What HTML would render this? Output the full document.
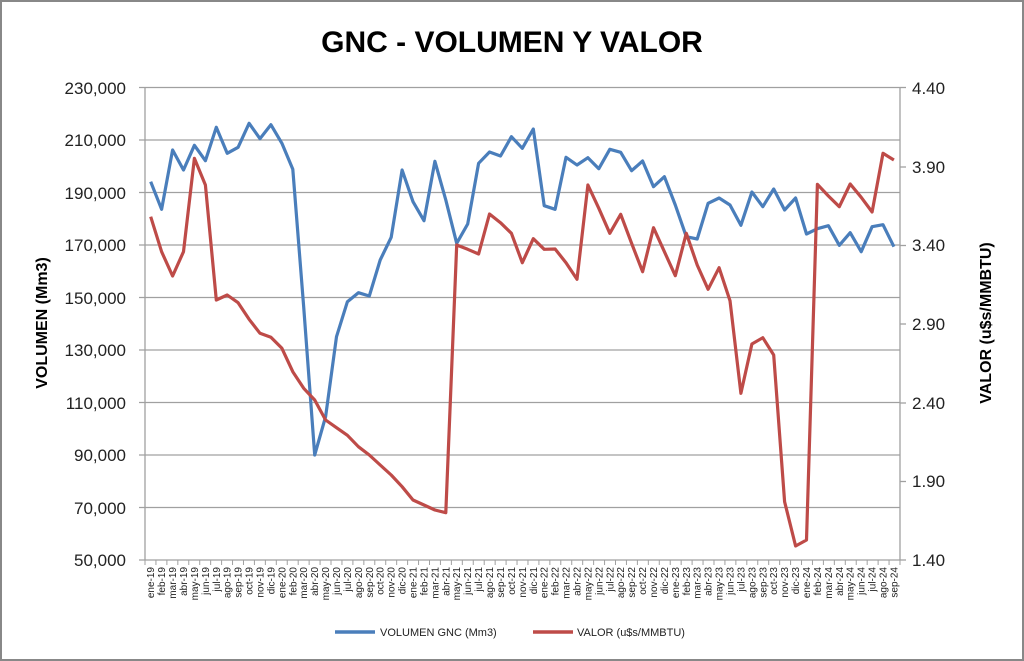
<!DOCTYPE html>
<html><head><meta charset="utf-8"><style>
html,body{margin:0;padding:0;background:#fff;}
svg{display:block;font-family:"Liberation Sans",Arial,sans-serif;}
</style></head><body>
<svg width="1024" height="661" viewBox="0 0 1024 661" xmlns="http://www.w3.org/2000/svg">
<rect x="1" y="1" width="1022" height="659" fill="#fff" stroke="#888" stroke-width="2"/>
<text x="512" y="52" text-anchor="middle" font-size="30" font-weight="bold" fill="#000">GNC - VOLUMEN Y VALOR</text>
<g stroke="#a0a0a0" stroke-width="1.3">
<line x1="139" y1="87.5" x2="900" y2="87.5"/>
<line x1="139" y1="140" x2="900" y2="140"/>
<line x1="139" y1="192.5" x2="900" y2="192.5"/>
<line x1="139" y1="245" x2="900" y2="245"/>
<line x1="139" y1="297.5" x2="900" y2="297.5"/>
<line x1="139" y1="350" x2="900" y2="350"/>
<line x1="139" y1="402.5" x2="900" y2="402.5"/>
<line x1="139" y1="455" x2="900" y2="455"/>
<line x1="139" y1="507.5" x2="900" y2="507.5"/>
<line x1="139" y1="560" x2="900" y2="560"/>
<line x1="145" y1="87" x2="145" y2="560"/>
<line x1="900" y1="87" x2="900" y2="560"/>
<line x1="900" y1="167" x2="906" y2="167"/>
<line x1="900" y1="245.5" x2="906" y2="245.5"/>
<line x1="900" y1="324" x2="906" y2="324"/>
<line x1="900" y1="403" x2="906" y2="403"/>
<line x1="900" y1="481.5" x2="906" y2="481.5"/>
<line x1="900" y1="87.5" x2="906" y2="87.5"/>
<line x1="900" y1="560" x2="906" y2="560"/>
</g>
<g font-size="17" fill="#222" text-anchor="end">
<text x="126" y="94">230,000</text>
<text x="126" y="146">210,000</text>
<text x="126" y="199">190,000</text>
<text x="126" y="251">170,000</text>
<text x="126" y="304">150,000</text>
<text x="126" y="356">130,000</text>
<text x="126" y="409">110,000</text>
<text x="126" y="461">90,000</text>
<text x="126" y="514">70,000</text>
<text x="126" y="566">50,000</text>
</g>
<g font-size="17" fill="#222">
<text x="912" y="94">4.40</text>
<text x="912" y="173">3.90</text>
<text x="912" y="251">3.40</text>
<text x="912" y="330">2.90</text>
<text x="912" y="409">2.40</text>
<text x="912" y="487">1.90</text>
<text x="912" y="566">1.40</text>
</g>
<text transform="translate(47,323) rotate(-90)" text-anchor="middle" font-size="16" font-weight="bold">VOLUMEN (Mm3)</text>
<text transform="translate(991,323) rotate(-90)" text-anchor="middle" font-size="16" font-weight="bold">VALOR (u$s/MMBTU)</text>
<g id="ticks" stroke="#a0a0a0" stroke-width="1"></g>
<g id="labels" font-size="10" fill="#222"></g>
<polyline fill="none" stroke="#4a7ebb" stroke-width="3.2" stroke-linejoin="round" points="150.7,181.7 161.6,209.3 172.6,150 183.5,170 194.4,145.3 205.4,160.7 216.3,127.3 227.2,153.3 238.1,147.3 249.1,123.3 260,138.7 270.9,124.7 281.9,143.3 292.8,169.3 303.7,307 314.7,455 325.6,416.7 336.5,336.7 347.4,301.7 358.4,292.7 369.3,296 380.2,260 391.2,237.3 402.1,170 413,201.7 424,220.7 434.9,161.3 445.8,200 456.7,243.3 467.7,224 478.6,163.3 489.5,152 500.5,156 511.4,136.7 522.3,148.3 533.3,129 544.2,205.7 555.1,209.3 566,157.3 577,165 587.9,157.7 598.8,168.7 609.8,149.3 620.7,152.3 631.6,170.7 642.6,161 653.5,186.7 664.4,176.7 675.3,205 686.3,236.7 697.2,239 708.1,203.3 719.1,198 730,205 740.9,225.3 751.9,192 762.8,206.7 773.7,189 784.6,210 795.6,198 806.5,234 817.4,228.7 828.4,225.7 839.3,245.3 850.2,232.7 861.2,251.7 872.1,226.7 883,224.7 893.9,246.7"/>
<polyline fill="none" stroke="#be4b48" stroke-width="3.2" stroke-linejoin="round" points="150.7,216.7 161.6,251.7 172.6,276 183.5,251.7 194.4,158.3 205.4,185 216.3,300 227.2,295 238.1,302.7 249.1,319.3 260,333.3 270.9,337.3 281.9,348.3 292.8,371.7 303.7,388.3 314.7,400 325.6,420 336.5,427.7 347.4,435.3 358.4,446.7 369.3,455 380.2,465 391.2,475 402.1,486.7 413,500 424,505 434.9,510 445.8,512.7 456.7,245 467.7,249.3 478.6,254 489.5,214 500.5,222.7 511.4,233.3 522.3,262.7 533.3,238.7 544.2,249.3 555.1,249 566,262.7 577,279.3 587.9,185 598.8,208.3 609.8,233.3 620.7,214.3 631.6,243.3 642.6,271.7 653.5,227.7 664.4,251.7 675.3,275.7 686.3,233.3 697.2,265 708.1,289.3 719.1,267.7 730,300.7 740.9,393.3 751.9,344 762.8,337.7 773.7,355 784.6,501.7 795.6,546 806.5,540 817.4,184.3 828.4,196 839.3,206.7 850.2,184 861.2,197.3 872.1,212 883,153.3 893.9,160"/>
<line x1="335" y1="632" x2="375" y2="632" stroke="#4a7ebb" stroke-width="3.5"/>
<text x="380" y="636" font-size="11" fill="#222">VOLUMEN GNC (Mm3)</text>
<line x1="533" y1="632" x2="573" y2="632" stroke="#be4b48" stroke-width="3.5"/>
<text x="577" y="636" font-size="11" fill="#222">VALOR (u$s/MMBTU)</text>
<script>
(function(){
var ns="http://www.w3.org/2000/svg";
var m=["ene","feb","mar","abr","may","jun","jul","ago","sep","oct","nov","dic"];
var tg=document.getElementById("ticks"),lg=document.getElementById("labels");
for(var k=0;k<=69;k++){var x=145+10.942*k;var l=document.createElementNS(ns,"line");
l.setAttribute("x1",x);l.setAttribute("x2",x);l.setAttribute("y1",560);l.setAttribute("y2",565);tg.appendChild(l);}
for(var i=0;i<69;i++){var x=150.7+10.93*i+3.5;var t=document.createElementNS(ns,"text");
t.setAttribute("transform","translate("+x+",567) rotate(-90)");t.setAttribute("text-anchor","end");
t.textContent=m[i%12]+"-"+(19+Math.floor(i/12));lg.appendChild(t);}
})();
</script>
</svg>
</body></html>
